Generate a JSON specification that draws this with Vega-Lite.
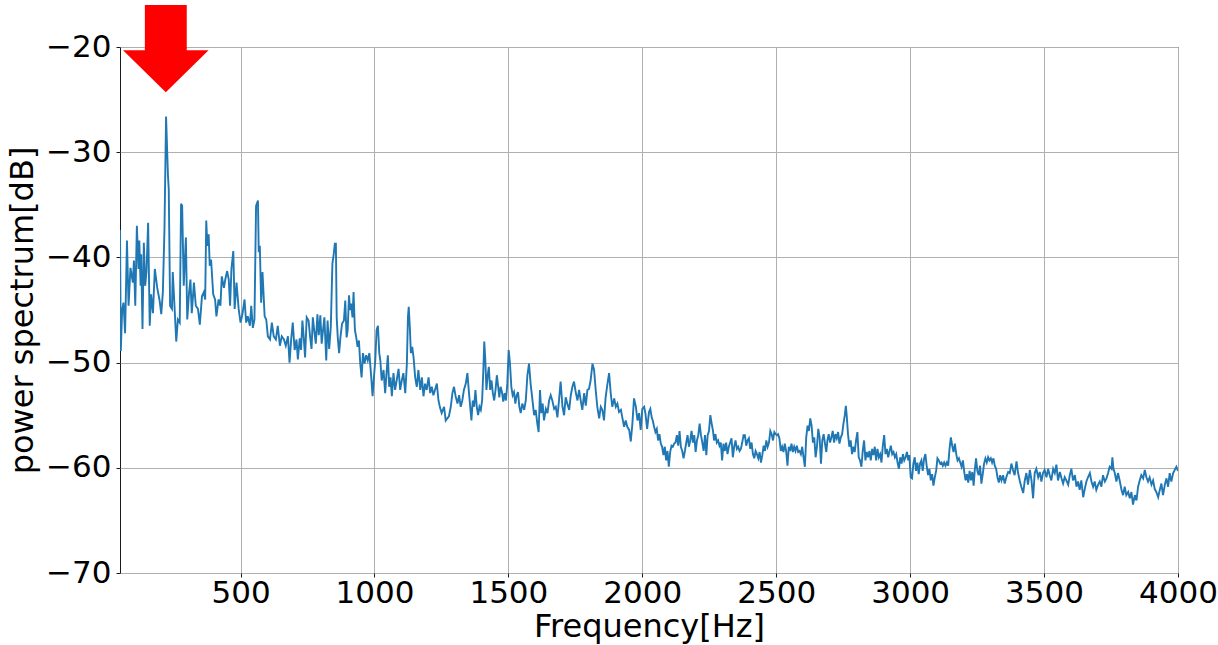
{
"$schema": "https://vega.github.io/schema/vega-lite/v6.json",
"width": 1058, "height": 526,
"autosize": {"type": "none"},
"padding": {"left": 120, "top": 47, "right": 40, "bottom": 72},
"background": "white",
"config": {
 "font": "DejaVu Sans",
 "view": {"stroke": "#1a1a1a", "strokeWidth": 1},
 "axis": {"grid": true, "gridColor": "#b0b0b0", "gridWidth": 1, "domain": false, "tickColor": "#1a1a1a", "tickSize": 4, "tickWidth": 1, "labelFont": "DejaVu Sans", "labelFontSize": 31, "labelColor": "#000", "titleFont": "DejaVu Sans", "titleFontSize": 32, "titleFontWeight": "normal", "titleColor": "#000", "labelFlush": false, "labelOverlap": false}
},
"datasets": {
"arrow": [{"f": 221, "db": -20.15}],
"spectrum": [
{"f":50,"db":-37.4},{"f":53,"db":-48.9},{"f":58,"db":-45.0},{"f":63,"db":-44.3},{"f":69,"db":-47.2},{"f":76,"db":-38.4},{"f":82,"db":-44.6},{"f":89,"db":-41.0},{"f":98,"db":-42.4},{"f":102,"db":-40.3},{"f":107,"db":-44.6},{"f":113,"db":-37.0},{"f":119,"db":-41.1},{"f":122,"db":-38.4},{"f":127,"db":-42.7},{"f":129,"db":-39.7},{"f":134,"db":-46.8},{"f":139,"db":-38.6},{"f":144,"db":-42.7},{"f":149,"db":-41.3},{"f":155,"db":-36.7},{"f":161,"db":-46.5},{"f":166,"db":-43.5},{"f":173,"db":-45.3},{"f":180,"db":-41.1},{"f":189,"db":-42.9},{"f":198,"db":-44.1},{"f":204,"db":-45.4},{"f":210,"db":-43.3},{"f":216,"db":-37.3},{"f":222,"db":-26.6},{"f":229,"db":-32.2},{"f":232,"db":-33.5},{"f":237,"db":-44.6},{"f":244,"db":-44.9},{"f":247,"db":-41.4},{"f":254,"db":-44.9},{"f":260,"db":-48.0},{"f":266,"db":-45.9},{"f":273,"db":-46.2},{"f":278,"db":-34.9},{"f":282,"db":-35.1},{"f":288,"db":-42.7},{"f":296,"db":-38.1},{"f":301,"db":-45.9},{"f":308,"db":-43.3},{"f":313,"db":-42.1},{"f":318,"db":-45.3},{"f":326,"db":-42.4},{"f":333,"db":-44.6},{"f":341,"db":-44.9},{"f":348,"db":-46.4},{"f":356,"db":-43.7},{"f":363,"db":-43.3},{"f":368,"db":-44.0},{"f":372,"db":-36.5},{"f":376,"db":-38.9},{"f":381,"db":-37.8},{"f":385,"db":-40.8},{"f":390,"db":-40.2},{"f":398,"db":-43.5},{"f":405,"db":-44.0},{"f":410,"db":-45.6},{"f":418,"db":-44.0},{"f":425,"db":-44.6},{"f":430,"db":-41.8},{"f":438,"db":-42.9},{"f":443,"db":-42.1},{"f":450,"db":-41.3},{"f":456,"db":-42.1},{"f":461,"db":-44.6},{"f":466,"db":-41.1},{"f":473,"db":-39.4},{"f":478,"db":-44.9},{"f":485,"db":-42.4},{"f":493,"db":-44.9},{"f":500,"db":-46.2},{"f":507,"db":-45.4},{"f":515,"db":-44.0},{"f":521,"db":-46.2},{"f":527,"db":-45.6},{"f":535,"db":-46.5},{"f":540,"db":-44.6},{"f":546,"db":-46.7},{"f":552,"db":-45.9},{"f":558,"db":-35.1},{"f":565,"db":-34.6},{"f":568,"db":-39.5},{"f":572,"db":-38.9},{"f":577,"db":-44.3},{"f":582,"db":-41.4},{"f":590,"db":-45.6},{"f":596,"db":-45.9},{"f":602,"db":-47.5},{"f":610,"db":-47.8},{"f":617,"db":-46.2},{"f":624,"db":-47.5},{"f":632,"db":-47.8},{"f":639,"db":-46.5},{"f":647,"db":-48.4},{"f":654,"db":-47.5},{"f":662,"db":-47.8},{"f":669,"db":-48.4},{"f":677,"db":-47.5},{"f":683,"db":-50.0},{"f":689,"db":-47.8},{"f":695,"db":-46.2},{"f":702,"db":-48.8},{"f":709,"db":-47.8},{"f":714,"db":-49.7},
{"f":721,"db":-47.7},{"f":726,"db":-48.8},{"f":731,"db":-46.0},{"f":736,"db":-47.6},{"f":741,"db":-49.5},{"f":747,"db":-45.7},{"f":754,"db":-46.0},{"f":760,"db":-47.6},{"f":765,"db":-48.7},{"f":770,"db":-45.7},{"f":775,"db":-46.9},{"f":781,"db":-48.2},{"f":787,"db":-45.4},{"f":792,"db":-47.4},{"f":798,"db":-45.5},{"f":803,"db":-48.2},{"f":808,"db":-46.9},{"f":813,"db":-45.7},{"f":820,"db":-49.8},{"f":825,"db":-46.0},{"f":831,"db":-48.7},{"f":837,"db":-46.6},{"f":843,"db":-40.6},{"f":848,"db":-39.7},{"f":852,"db":-38.7},{"f":856,"db":-38.7},{"f":859,"db":-45.7},{"f":863,"db":-47.6},{"f":868,"db":-49.1},{"f":873,"db":-47.6},{"f":879,"db":-46.3},{"f":886,"db":-46.0},{"f":891,"db":-44.1},{"f":896,"db":-47.6},{"f":900,"db":-46.9},{"f":905,"db":-43.6},{"f":909,"db":-45.0},{"f":913,"db":-44.4},{"f":918,"db":-45.7},{"f":922,"db":-43.3},{"f":927,"db":-46.9},{"f":932,"db":-47.6},{"f":937,"db":-48.5},{"f":942,"db":-47.9},{"f":947,"db":-50.1},{"f":952,"db":-51.4},{"f":957,"db":-49.1},{"f":963,"db":-50.1},{"f":969,"db":-49.3},{"f":975,"db":-49.8},{"f":981,"db":-49.1},{"f":988,"db":-51.4},{"f":993,"db":-53.2},{"f":998,"db":-51.4},{"f":1003,"db":-49.8},{"f":1008,"db":-46.9},{"f":1013,"db":-46.5},{"f":1018,"db":-49.1},{"f":1022,"db":-49.8},{"f":1027,"db":-51.7},{"f":1034,"db":-50.7},{"f":1040,"db":-52.9},{"f":1045,"db":-51.0},{"f":1050,"db":-49.3},{"f":1055,"db":-52.3},{"f":1060,"db":-51.4},{"f":1065,"db":-53.2},{"f":1071,"db":-51.0},{"f":1077,"db":-52.6},{"f":1083,"db":-51.7},{"f":1090,"db":-50.6},{"f":1096,"db":-52.6},{"f":1102,"db":-51.7},{"f":1108,"db":-51.0},{"f":1115,"db":-52.9},{"f":1121,"db":-50.1},{"f":1125,"db":-45.7},{"f":1128,"db":-44.7},{"f":1132,"db":-46.6},{"f":1136,"db":-49.1},{"f":1141,"db":-48.5},{"f":1146,"db":-49.5},{"f":1152,"db":-51.4},{"f":1158,"db":-52.3},{"f":1164,"db":-50.7},{"f":1171,"db":-52.6},{"f":1177,"db":-51.4},{"f":1183,"db":-53.2},{"f":1189,"db":-52.0},{"f":1195,"db":-52.6},{"f":1202,"db":-51.4},{"f":1208,"db":-52.9},{"f":1214,"db":-52.3},{"f":1220,"db":-53.1},{"f":1227,"db":-52.5},{"f":1233,"db":-52.0},{"f":1239,"db":-53.6},{"f":1245,"db":-54.3},{"f":1251,"db":-54.8},
{"f":1260,"db":-54.2},{"f":1266,"db":-55.5},{"f":1272,"db":-55.3},{"f":1278,"db":-55.1},{"f":1285,"db":-54.2},{"f":1291,"db":-52.9},{"f":1297,"db":-52.3},{"f":1303,"db":-53.2},{"f":1310,"db":-53.9},{"f":1316,"db":-53.1},{"f":1322,"db":-54.2},{"f":1328,"db":-53.6},{"f":1334,"db":-52.6},{"f":1341,"db":-52.0},{"f":1347,"db":-51.0},{"f":1353,"db":-52.9},{"f":1362,"db":-55.5},
{"f":1367,"db":-53.6},{"f":1372,"db":-54.2},{"f":1377,"db":-52.6},{"f":1382,"db":-54.2},{"f":1387,"db":-55.0},{"f":1392,"db":-54.2},{"f":1397,"db":-54.5},{"f":1402,"db":-53.6},{"f":1407,"db":-50.4},{"f":1410,"db":-48.0},{"f":1414,"db":-49.8},{"f":1418,"db":-52.6},{"f":1422,"db":-51.4},{"f":1427,"db":-50.4},{"f":1432,"db":-52.6},{"f":1437,"db":-51.7},{"f":1442,"db":-52.9},{"f":1447,"db":-53.6},{"f":1452,"db":-52.6},{"f":1457,"db":-51.2},{"f":1462,"db":-52.3},{"f":1466,"db":-53.3},{"f":1471,"db":-52.3},{"f":1476,"db":-52.8},{"f":1481,"db":-53.7},{"f":1486,"db":-52.9},{"f":1491,"db":-53.6},{"f":1496,"db":-52.0},{"f":1501,"db":-48.8},{"f":1506,"db":-50.1},{"f":1511,"db":-52.3},{"f":1516,"db":-53.1},{"f":1521,"db":-52.8},{"f":1526,"db":-53.9},{"f":1531,"db":-53.1},{"f":1536,"db":-52.8},{"f":1541,"db":-54.2},{"f":1546,"db":-54.8},{"f":1552,"db":-53.9},{"f":1559,"db":-54.5},{"f":1565,"db":-53.6},{"f":1571,"db":-51.2},{"f":1577,"db":-50.1},{"f":1583,"db":-52.0},{"f":1590,"db":-53.6},{"f":1596,"db":-55.0},{"f":1602,"db":-54.5},{"f":1608,"db":-55.8},{"f":1613,"db":-56.6},{"f":1618,"db":-52.6},{"f":1623,"db":-54.8},{"f":1628,"db":-53.9},{"f":1633,"db":-55.5},{"f":1640,"db":-54.4},{"f":1646,"db":-54.8},{"f":1652,"db":-53.6},{"f":1658,"db":-53.1},{"f":1664,"db":-53.6},{"f":1671,"db":-54.4},{"f":1677,"db":-54.2},{"f":1683,"db":-55.2},{"f":1689,"db":-53.6},{"f":1695,"db":-51.8},{"f":1702,"db":-54.2},{"f":1708,"db":-55.0},{"f":1714,"db":-53.3},{"f":1720,"db":-53.9},{"f":1727,"db":-54.5},{"f":1733,"db":-53.1},{"f":1739,"db":-52.3},{"f":1745,"db":-51.8},{"f":1752,"db":-52.9},{"f":1758,"db":-53.6},{"f":1764,"db":-52.6},{"f":1770,"db":-53.6},{"f":1776,"db":-54.5},{"f":1783,"db":-52.9},{"f":1789,"db":-54.1},{"f":1795,"db":-52.6},{"f":1801,"db":-52.5},{"f":1807,"db":-51.7},{"f":1814,"db":-50.1},{"f":1820,"db":-50.7},{"f":1826,"db":-52.6},{"f":1832,"db":-54.2},{"f":1839,"db":-55.3},{"f":1845,"db":-54.2},{"f":1851,"db":-54.5},{"f":1857,"db":-55.5},{"f":1863,"db":-53.3},{"f":1870,"db":-52.0},{"f":1876,"db":-51.0},{"f":1882,"db":-52.9},{"f":1888,"db":-54.2},{"f":1895,"db":-53.4},{"f":1901,"db":-54.2},{"f":1907,"db":-53.9},{"f":1913,"db":-54.7},{"f":1920,"db":-54.5},{"f":1926,"db":-55.3},{"f":1932,"db":-56.1},{"f":1938,"db":-55.5},{"f":1944,"db":-56.1},{"f":1951,"db":-56.4},{"f":1957,"db":-57.5},{"f":1963,"db":-55.8},{"f":1969,"db":-53.4},{"f":1976,"db":-54.2},{"f":1982,"db":-55.5},{"f":1988,"db":-54.8},{"f":1994,"db":-56.4},{"f":2000,"db":-54.4},{"f":2007,"db":-54.2},
{"f":2012,"db":-54.9},{"f":2018,"db":-56.3},{"f":2025,"db":-54.7},{"f":2030,"db":-54.4},{"f":2035,"db":-55.2},{"f":2039,"db":-55.5},{"f":2044,"db":-56.1},{"f":2049,"db":-56.6},{"f":2054,"db":-56.3},{"f":2059,"db":-57.4},{"f":2064,"db":-56.8},{"f":2069,"db":-57.7},{"f":2074,"db":-58.0},{"f":2079,"db":-58.8},{"f":2084,"db":-58.0},{"f":2089,"db":-59.3},{"f":2094,"db":-58.4},{"f":2099,"db":-59.9},{"f":2104,"db":-58.5},{"f":2109,"db":-57.9},{"f":2114,"db":-58.0},{"f":2119,"db":-57.7},{"f":2124,"db":-57.6},{"f":2129,"db":-56.9},{"f":2134,"db":-57.9},{"f":2139,"db":-56.5},{"f":2144,"db":-58.0},{"f":2149,"db":-58.4},{"f":2154,"db":-59.1},{"f":2159,"db":-58.4},{"f":2164,"db":-57.6},{"f":2169,"db":-56.9},{"f":2174,"db":-58.0},{"f":2179,"db":-57.4},{"f":2184,"db":-56.5},{"f":2189,"db":-57.6},{"f":2194,"db":-56.9},{"f":2199,"db":-58.5},{"f":2204,"db":-57.4},{"f":2209,"db":-56.9},{"f":2214,"db":-55.8},{"f":2219,"db":-56.9},{"f":2224,"db":-57.6},{"f":2229,"db":-58.4},{"f":2234,"db":-56.9},{"f":2239,"db":-58.8},{"f":2244,"db":-56.9},{"f":2249,"db":-56.5},{"f":2254,"db":-55.0},{"f":2259,"db":-55.8},{"f":2264,"db":-56.5},{"f":2268,"db":-57.4},{"f":2273,"db":-56.8},{"f":2278,"db":-57.6},{"f":2283,"db":-57.4},{"f":2288,"db":-57.9},{"f":2293,"db":-57.6},{"f":2298,"db":-59.3},{"f":2303,"db":-57.7},{"f":2308,"db":-58.4},{"f":2313,"db":-57.6},{"f":2318,"db":-58.7},{"f":2323,"db":-58.0},{"f":2328,"db":-57.6},{"f":2333,"db":-57.2},{"f":2338,"db":-59.0},{"f":2343,"db":-58.0},{"f":2348,"db":-57.4},{"f":2353,"db":-58.2},{"f":2358,"db":-58.0},{"f":2363,"db":-58.4},{"f":2368,"db":-58.2},{"f":2373,"db":-57.6},{"f":2378,"db":-56.9},{"f":2383,"db":-56.9},{"f":2388,"db":-57.9},{"f":2393,"db":-57.4},{"f":2398,"db":-57.2},{"f":2403,"db":-58.2},{"f":2408,"db":-57.6},{"f":2413,"db":-58.7},{"f":2418,"db":-59.1},{"f":2423,"db":-58.4},{"f":2428,"db":-58.7},{"f":2433,"db":-59.1},{"f":2438,"db":-58.5},{"f":2443,"db":-59.5},{"f":2448,"db":-58.8},{"f":2453,"db":-57.9},{"f":2458,"db":-58.4},{"f":2463,"db":-57.4},{"f":2468,"db":-58.0},{"f":2473,"db":-57.6},{"f":2478,"db":-56.5},{"f":2483,"db":-56.8},{"f":2488,"db":-57.4},{"f":2493,"db":-56.6},{"f":2498,"db":-56.8},{"f":2503,"db":-56.9},{"f":2507,"db":-56.8},{"f":2512,"db":-57.2},{"f":2517,"db":-58.4},{"f":2522,"db":-58.0},{"f":2527,"db":-58.5},{"f":2532,"db":-57.7},{"f":2537,"db":-58.4},{"f":2542,"db":-59.8},{"f":2547,"db":-58.0},{"f":2552,"db":-58.4},{"f":2557,"db":-57.7},{"f":2562,"db":-58.5},{"f":2567,"db":-58.0},{"f":2572,"db":-58.4},{"f":2577,"db":-57.9},{"f":2582,"db":-58.5},{"f":2587,"db":-58.4},{"f":2592,"db":-58.7},{"f":2597,"db":-58.0},{"f":2602,"db":-59.0},{"f":2607,"db":-59.9},{"f":2612,"db":-57.1},{"f":2617,"db":-56.0},{"f":2622,"db":-56.5},{"f":2627,"db":-55.3},{"f":2632,"db":-56.0},{"f":2637,"db":-57.6},{"f":2642,"db":-57.1},{"f":2647,"db":-59.0},{"f":2652,"db":-58.0},{"f":2657,"db":-56.3},{"f":2662,"db":-57.1},{"f":2667,"db":-59.6},{"f":2672,"db":-57.4},{"f":2677,"db":-56.8},{"f":2682,"db":-57.7},{"f":2687,"db":-58.5},
{"f":2691,"db":-57.4},{"f":2696,"db":-56.8},{"f":2701,"db":-57.6},{"f":2706,"db":-57.1},{"f":2711,"db":-56.5},{"f":2716,"db":-57.6},{"f":2721,"db":-56.8},{"f":2726,"db":-57.2},{"f":2731,"db":-56.6},{"f":2736,"db":-57.7},{"f":2741,"db":-57.1},{"f":2746,"db":-56.8},{"f":2751,"db":-55.8},{"f":2756,"db":-55.0},{"f":2760,"db":-54.1},{"f":2763,"db":-55.0},{"f":2768,"db":-56.8},{"f":2773,"db":-58.0},{"f":2778,"db":-57.4},{"f":2783,"db":-58.7},{"f":2788,"db":-58.0},{"f":2793,"db":-58.5},{"f":2798,"db":-57.4},{"f":2803,"db":-56.6},{"f":2808,"db":-59.0},{"f":2813,"db":-59.3},{"f":2818,"db":-59.9},{"f":2823,"db":-58.4},{"f":2828,"db":-57.4},{"f":2833,"db":-59.3},{"f":2838,"db":-58.5},{"f":2843,"db":-59.0},{"f":2848,"db":-58.4},{"f":2853,"db":-59.3},{"f":2858,"db":-58.2},{"f":2863,"db":-58.8},{"f":2868,"db":-58.0},{"f":2873,"db":-59.3},{"f":2878,"db":-58.2},{"f":2883,"db":-59.0},{"f":2888,"db":-58.7},{"f":2893,"db":-59.5},{"f":2898,"db":-57.9},{"f":2903,"db":-56.9},{"f":2908,"db":-58.7},{"f":2913,"db":-58.2},{"f":2918,"db":-59.0},{"f":2923,"db":-58.4},{"f":2928,"db":-57.9},{"f":2933,"db":-58.7},{"f":2938,"db":-58.5},{"f":2943,"db":-59.0},{"f":2948,"db":-58.7},{"f":2953,"db":-59.5},{"f":2958,"db":-60.1},{"f":2963,"db":-59.0},{"f":2968,"db":-59.6},{"f":2973,"db":-58.7},{"f":2978,"db":-59.3},{"f":2983,"db":-59.0},{"f":2988,"db":-58.5},{"f":2993,"db":-59.3},{"f":2997,"db":-58.8},{"f":3002,"db":-60.9},{"f":3007,"db":-61.0},{"f":3012,"db":-59.6},{"f":3017,"db":-59.0},{"f":3022,"db":-60.3},{"f":3027,"db":-59.5},{"f":3032,"db":-60.6},{"f":3037,"db":-59.6},{"f":3042,"db":-59.3},{"f":3047,"db":-60.3},{"f":3052,"db":-59.1},{"f":3057,"db":-58.7},{"f":3062,"db":-59.9},{"f":3067,"db":-60.7},{"f":3072,"db":-60.1},{"f":3077,"db":-61.2},{"f":3082,"db":-60.6},{"f":3087,"db":-61.7},{"f":3092,"db":-60.9},{"f":3097,"db":-60.3},{"f":3102,"db":-59.1},{"f":3107,"db":-59.3},{"f":3112,"db":-59.6},{"f":3117,"db":-59.5},{"f":3122,"db":-59.8},{"f":3127,"db":-59.5},{"f":3132,"db":-59.8},{"f":3137,"db":-59.5},{"f":3142,"db":-59.8},{"f":3147,"db":-58.2},{"f":3152,"db":-57.1},{"f":3157,"db":-57.9},{"f":3162,"db":-58.5},{"f":3167,"db":-57.7},{"f":3172,"db":-58.7},{"f":3177,"db":-59.3},{"f":3182,"db":-59.1},{"f":3187,"db":-59.5},{"f":3192,"db":-59.9},{"f":3197,"db":-59.3},{"f":3202,"db":-60.4},{"f":3207,"db":-61.2},{"f":3212,"db":-60.6},{"f":3217,"db":-61.4},{"f":3222,"db":-60.3},{"f":3227,"db":-61.2},{"f":3232,"db":-60.4},{"f":3237,"db":-61.7},{"f":3241,"db":-60.3},{"f":3246,"db":-59.1},{"f":3251,"db":-60.3},{"f":3256,"db":-60.7},{"f":3261,"db":-59.8},{"f":3266,"db":-61.5},{"f":3271,"db":-60.6},{"f":3276,"db":-59.6},{"f":3281,"db":-59.1},{"f":3286,"db":-59.5},{"f":3291,"db":-59.0},{"f":3296,"db":-59.3},{"f":3301,"db":-59.1},{"f":3306,"db":-59.5},{"f":3311,"db":-59.1},{"f":3316,"db":-59.8},{"f":3321,"db":-60.1},{"f":3326,"db":-60.9},{"f":3331,"db":-61.4},{"f":3336,"db":-60.7},{"f":3341,"db":-61.2},
{"f":3347,"db":-60.7},{"f":3353,"db":-61.5},{"f":3359,"db":-60.9},{"f":3366,"db":-60.4},{"f":3372,"db":-60.5},{"f":3378,"db":-59.6},{"f":3384,"db":-60.2},{"f":3390,"db":-60.7},{"f":3397,"db":-59.4},{"f":3403,"db":-60.5},{"f":3409,"db":-61.2},{"f":3415,"db":-61.8},{"f":3422,"db":-62.4},{"f":3428,"db":-61.2},{"f":3434,"db":-60.5},{"f":3440,"db":-61.6},{"f":3447,"db":-60.2},{"f":3453,"db":-61.2},{"f":3459,"db":-62.9},{"f":3465,"db":-60.5},{"f":3471,"db":-60.1},{"f":3478,"db":-60.9},{"f":3484,"db":-60.4},{"f":3490,"db":-61.3},{"f":3496,"db":-60.5},{"f":3502,"db":-60.2},{"f":3509,"db":-60.9},{"f":3515,"db":-60.1},{"f":3521,"db":-60.7},{"f":3527,"db":-61.2},{"f":3534,"db":-60.1},{"f":3540,"db":-60.5},{"f":3546,"db":-59.7},{"f":3552,"db":-61.2},{"f":3559,"db":-60.4},{"f":3565,"db":-61.0},{"f":3571,"db":-61.5},{"f":3577,"db":-60.9},{"f":3583,"db":-61.2},{"f":3590,"db":-61.6},{"f":3596,"db":-60.7},{"f":3602,"db":-60.1},{"f":3608,"db":-61.2},{"f":3615,"db":-60.7},{"f":3621,"db":-61.8},{"f":3627,"db":-61.3},{"f":3633,"db":-62.1},{"f":3639,"db":-61.2},{"f":3646,"db":-62.8},{"f":3652,"db":-62.0},{"f":3658,"db":-61.3},{"f":3664,"db":-60.9},{"f":3671,"db":-60.5},{"f":3677,"db":-61.3},{"f":3683,"db":-61.8},{"f":3689,"db":-61.3},{"f":3695,"db":-62.1},{"f":3702,"db":-61.6},{"f":3708,"db":-61.3},{"f":3714,"db":-61.8},{"f":3720,"db":-60.7},{"f":3727,"db":-61.3},{"f":3733,"db":-61.0},{"f":3739,"db":-60.5},{"f":3745,"db":-59.9},{"f":3752,"db":-60.1},{"f":3755,"db":-59.0},{"f":3759,"db":-60.1},{"f":3764,"db":-60.5},{"f":3770,"db":-61.3},{"f":3776,"db":-60.5},{"f":3783,"db":-61.3},{"f":3789,"db":-62.1},{"f":3795,"db":-62.6},{"f":3801,"db":-61.8},{"f":3807,"db":-62.6},{"f":3814,"db":-62.3},{"f":3820,"db":-62.9},{"f":3826,"db":-62.3},{"f":3832,"db":-63.5},{"f":3839,"db":-62.6},{"f":3845,"db":-63.1},{"f":3851,"db":-61.8},{"f":3857,"db":-61.2},{"f":3863,"db":-60.7},{"f":3870,"db":-61.0},{"f":3876,"db":-60.2},{"f":3882,"db":-60.9},{"f":3888,"db":-61.3},{"f":3894,"db":-60.9},{"f":3901,"db":-61.6},{"f":3907,"db":-61.2},{"f":3913,"db":-62.0},{"f":3919,"db":-62.3},{"f":3926,"db":-62.8},{"f":3932,"db":-62.1},{"f":3938,"db":-61.5},{"f":3944,"db":-62.6},{"f":3951,"db":-61.6},{"f":3957,"db":-61.0},{"f":3963,"db":-61.8},{"f":3969,"db":-60.5},{"f":3975,"db":-61.3},{"f":3982,"db":-60.5},{"f":3988,"db":-60.2},{"f":3994,"db":-59.9},{"f":4000,"db":-60.3}
]
},
"layer": [
 {
  "data": {"name": "spectrum"},
  "mark": {"type": "line", "color": "#1f77b4", "strokeWidth": 1.9, "clip": true},
  "encoding": {
   "x": {"field": "f", "type": "quantitative", "scale": {"domain": [50, 4000], "nice": false, "zero": false},
         "axis": {"title": "Frequency[Hz]", "format": "d", "values": [500, 1000, 1500, 2000, 2500, 3000, 3500, 4000], "labelPadding": 1, "titlePadding": 3}},
   "y": {"field": "db", "type": "quantitative", "scale": {"domain": [-70, -20], "nice": false, "zero": false},
         "axis": {"title": "power spectrum[dB]", "values": [-70, -60, -50, -40, -30, -20], "labelPadding": 5, "titlePadding": 6}}
  }
 },
 {
  "data": {"name": "arrow"},
  "mark": {"type": "point", "shape": "M-0.48,-1L0.48,-1L0.48,0.04L0.98,0.04L0,1L-0.98,0.04L-0.48,0.04Z", "filled": true, "color": "#ff0000", "opacity": 1, "size": 7620, "strokeWidth": 0},
  "encoding": {
   "x": {"field": "f", "type": "quantitative"},
   "y": {"field": "db", "type": "quantitative"}
  }
 }
]
}
